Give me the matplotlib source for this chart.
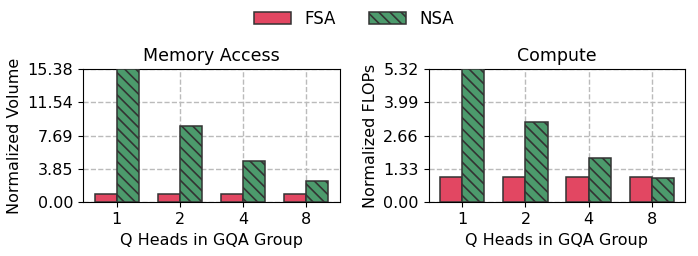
import matplotlib
matplotlib.use("Agg")
import matplotlib.pyplot as plt
import numpy as np

# data
q_heads = ["1", "2", "4", "8"]
mem_fsa = [1.0, 1.0, 1.0, 1.0]
mem_nsa = [15.38, 8.77, 4.72, 2.43]
flops_fsa = [1.0, 1.0, 1.0, 1.0]
flops_nsa = [5.32, 3.21, 1.78, 0.95]

titles = ["Memory Access", "Compute"]
ylabels = ["Normalized Volume", "Normalized FLOPs"]

fsa_color = "#e24762"
nsa_color = "#4c9a6c"
edge = "#333333"

plt.rcParams["font.size"] = 11.5
plt.rcParams["hatch.color"] = edge
plt.rcParams["hatch.linewidth"] = 1.2

fig, axes = plt.subplots(1, 2, figsize=(6.98, 2.56), dpi=100)
fig.subplots_adjust(left=0.119, right=0.982, bottom=0.21, top=0.73, wspace=0.345)

x = np.arange(len(q_heads))
w = 0.35
panels = [(mem_fsa, mem_nsa), (flops_fsa, flops_nsa)]
for ax, (fsa, nsa), title, ylab in zip(axes, panels, titles, ylabels):
    ax.bar(x - w / 2, fsa, w, color=fsa_color, edgecolor=edge, linewidth=1.1,
           label="FSA", zorder=3)
    ax.bar(x + w / 2, nsa, w, color=nsa_color, edgecolor=edge, linewidth=1.1,
           hatch="\\\\\\", label="NSA", zorder=3)
    top = max(nsa)
    ticks = np.linspace(0, top, 5)
    ax.set_ylim(0, top)
    ax.set_yticks(ticks)
    ax.set_yticklabels([f"{v:.2f}" for v in ticks])
    ax.set_xticks(x)
    ax.set_xticklabels(q_heads)
    ax.set_title(title, fontsize=12.5)
    ax.set_ylabel(ylab)
    ax.set_xlabel("Q Heads in GQA Group")
    ax.grid(True, linestyle="--", color="#bbbbbb", linewidth=1, zorder=0)
    ax.set_axisbelow(True)

handles, labels = axes[0].get_legend_handles_labels()
fig.legend(handles, labels, loc="upper center", ncol=2, frameon=False,
           bbox_to_anchor=(0.507, 1.02), handlelength=2.2, columnspacing=2.0,
           fontsize=12)

fig.savefig("out.png", dpi=100)
